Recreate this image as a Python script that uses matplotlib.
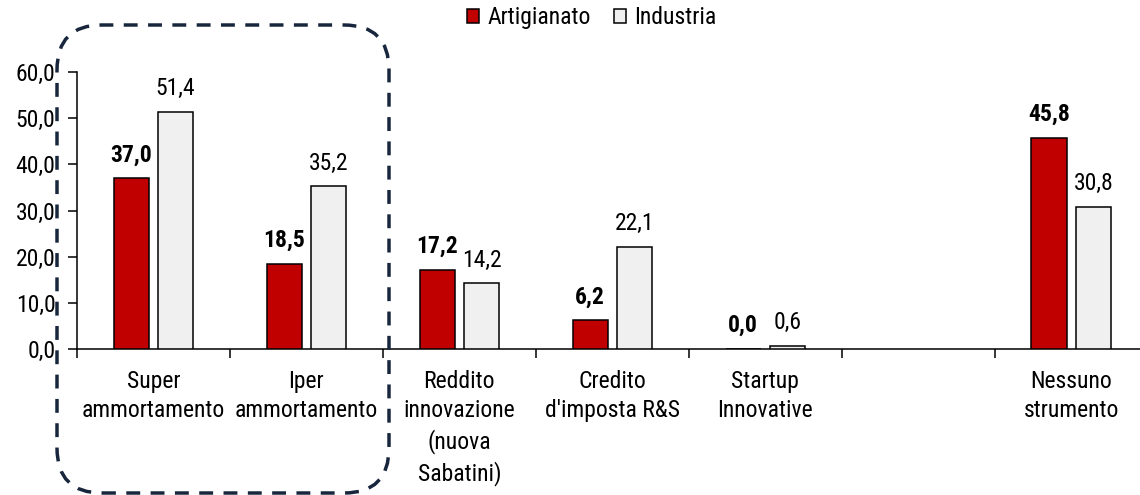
import matplotlib
matplotlib.use("Agg")
import matplotlib.pyplot as plt
import numpy as np
from matplotlib.patches import FancyBboxPatch
from matplotlib import transforms

categories = ["Super\nammortamento", "Iper\nammortamento", "Reddito\ninnovazione\n(nuova\nSabatini)",
              "Credito\nd'imposta R&S", "Startup\nInnovative", "", "Nessuno\nstrumento"]
artigianato = [37.0, 18.5, 17.2, 6.2, 0.0, np.nan, 45.8]
industria = [51.4, 35.2, 14.2, 22.1, 0.6, np.nan, 30.8]
series_names = ["Artigianato", "Industria"]
yticks = [0, 10, 20, 30, 40, 50, 60]

plt.rcParams['font.family'] = ['Roboto Condensed', 'DejaVu Sans']
FS = 17

fig = plt.figure(figsize=(11.4, 4.95), dpi=100)
ax = fig.add_axes([77/1140, 1 - 349/495, 1 - 77/1140, (349 - 72) / 495])

x = np.arange(len(categories))
w = 0.23
off = 0.145
ax.bar(x - off, artigianato, w, color="#C00000", edgecolor="black", linewidth=1.1, label=series_names[0], zorder=3)
ax.bar(x + off, industria, w, color="#F0F0F0", edgecolor="black", linewidth=1.1, label=series_names[1], zorder=3)

up = transforms.offset_copy(ax.transData, fig=fig, x=0, y=8.5, units="points")
down = transforms.offset_copy(ax.transData, fig=fig, x=0, y=-15, units="points")
for i in range(len(categories)):
    a = artigianato[i]
    b = industria[i]
    if not np.isnan(a):
        ax.text(x[i] - off, a, f"{a:.1f}".replace(".", ","), ha="center", va="bottom",
                fontsize=FS, fontweight="bold", transform=up)
    if not np.isnan(b):
        ax.text(x[i] + off, b, f"{b:.1f}".replace(".", ","), ha="center", va="bottom",
                fontsize=FS, transform=up)
    ax.text(x[i], 0, categories[i], ha="center", va="top", fontsize=FS, linespacing=1.35,
            transform=down)

ax.set_ylim(0, 60)
ax.set_xlim(-0.5, 6.45)
ax.set_yticks(yticks)
ax.set_yticklabels([f"{v:.1f}".replace(".", ",") for v in yticks], fontsize=FS)
ax.set_xticks(np.arange(-0.5, 6.5, 1.0))
ax.set_xticklabels([])
ax.tick_params(axis="x", direction="out", length=6.5, width=1.1)
ax.tick_params(axis="y", direction="out", length=6.5, width=1.1, pad=9)

for s in ["top", "right"]:
    ax.spines[s].set_visible(False)
ax.spines["left"].set_linewidth(1.1)
ax.spines["bottom"].set_linewidth(1.1)

fig.legend(loc="center", bbox_to_anchor=(0.519, 0.964), ncol=2, frameon=False,
           fontsize=FS, handlelength=0.5, handleheight=0.5, handletextpad=0.35,
           columnspacing=1.0, borderpad=0)

# dashed rounded frame (pixel coordinates; image is saved at 100 dpi)
left, right, top, bottom = 57, 389, 25, 493
box = FancyBboxPatch((left, 495 - bottom), right - left, bottom - top,
                     boxstyle="round,pad=0,rounding_size=45",
                     transform=transforms.IdentityTransform(),
                     fill=False, edgecolor="#17263C", linewidth=2.5, linestyle=(0, (4, 3)),
                     clip_on=False, zorder=10)
fig.patches.append(box)

fig.savefig("out.png", dpi=100)
